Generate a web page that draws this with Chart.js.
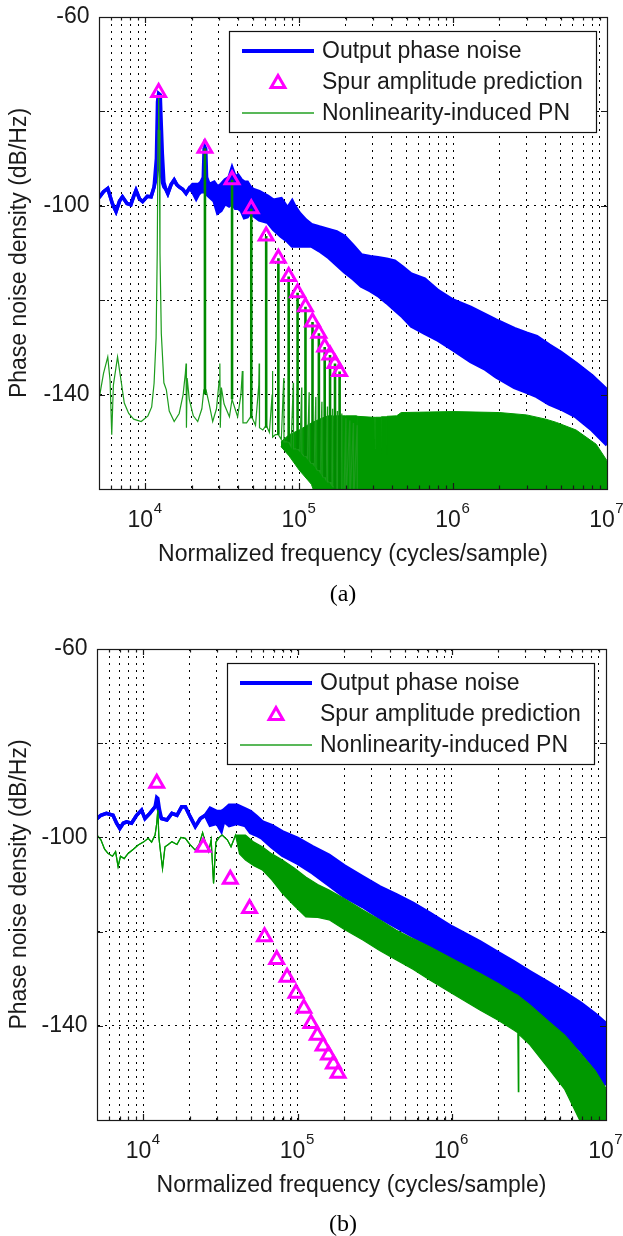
<!DOCTYPE html>
<html><head><meta charset="utf-8">
<script src="https://cdn.jsdelivr.net/npm/chart.js@4.4.0/dist/chart.umd.min.js"></script>
<style>
html,body{margin:0;padding:0;background:#fff;}
body{width:623px;height:1236px;position:relative;overflow:hidden;}
canvas{position:absolute;left:0;}
#ca{top:0;} #cb{top:618px;}
.cap{position:absolute;left:293px;width:100px;text-align:center;font-family:'Liberation Serif','Times New Roman',serif;font-size:24px;line-height:24px;color:#000;}
</style></head><body>
<canvas id="ca" width="623" height="618"></canvas>
<canvas id="cb" width="623" height="618"></canvas>
<div class="cap" id="capA" style="top:581px;"></div>
<div class="cap" id="capB" style="top:1211px;"></div>
<script>
// ---------- shared labels / ticks ----------
const legendLabels = ['Output phase noise', 'Spur amplitude prediction', 'Nonlinearity-induced PN'];
const captions = ['(a)', '(b)'];
const xTitle = 'Normalized frequency (cycles/sample)';
const yTitle = 'Phase noise density (dB/Hz)';
const xTickValues = [6e3,7e3,8e3,9e3,1e4,2e4,3e4,4e4,5e4,6e4,7e4,8e4,9e4,1e5,2e5,3e5,4e5,5e5,6e5,7e5,8e5,9e5,1e6,2e6,3e6,4e6,5e6,6e6,7e6,8e6,9e6,1e7];
const xMajorTicks = [1e4, 1e5, 1e6, 1e7];
const xMajorBase = '10';
const xMajorExponents = ['4', '5', '6', '7'];
const yTickValues = [-160, -140, -120, -100, -80, -60];
const yLabelValues = [-140, -100, -60];

// ---------- spur predictions ----------
const spurFreqs = [12200, 24400, 36600, 48800, 61000, 73200, 85400, 97600, 109800, 122000, 134200, 146400, 158600, 170800, 183000];
const spurA = [-76.0, -87.8, -94.5, -100.6, -106.4, -111.1, -115.0, -118.4, -121.4, -124.6, -127.0, -129.9, -131.6, -133.4, -135.1];
const spurB = [-88.5, -102.1, -108.9, -115.1, -121.1, -125.9, -129.7, -133.1, -136.3, -139.5, -142.0, -144.3, -146.2, -148.1, -150.1];

// ---------- (a) output phase noise (upper / lower envelope) ----------
const blueFreqA = [5000,5350,5700,6100,6450,6800,7100,7600,8050,8400,8700,9150,9600,10300,10900,11400,11800,12000,12200,12500,12700,12900,13200,13600,14000,14700,15400,16000,16600,17500,18400,19300,20300,21400,22200,23000,23800,24100,24400,24700,25000,26000,28000,29500,31000,33000,35000,36600,38500,40000,42000,44000,46000,48000,50000,55000,62500,68000,76400,84000,90000,93200,100000,110000,120000,135000,153500,175000,197000,225000,253000,290000,325000,370000,417000,470000,536000,653000,800000,1000000,1300000,1600000,1900000,2500000,3000000,3500000,4200000,5000000,6300000,8000000,10000000];
const blueHiA = [-98.3,-97.0,-96.3,-99.5,-101.2,-99.0,-98.1,-99.5,-99.8,-98.0,-96.7,-98.5,-99.1,-98.0,-98.1,-96.0,-90.0,-78.0,-76.2,-76.5,-83.0,-89.0,-95.0,-96.5,-97.4,-95.5,-94.5,-95.5,-96.0,-96.5,-97.4,-96.3,-95.5,-95.5,-95.5,-95.0,-94.0,-88.0,-87.6,-88.0,-94.0,-95.5,-95.0,-96.0,-95.5,-94.5,-94.0,-92.0,-94.0,-93.5,-94.5,-95.0,-95.0,-96.0,-96.5,-97.0,-98.0,-98.8,-98.5,-100.5,-99.0,-100.0,-101.5,-103.0,-104.0,-104.5,-105.0,-105.5,-106.5,-108.5,-110.4,-110.8,-111.0,-111.3,-111.7,-113.0,-114.5,-115.5,-118.0,-120.0,-121.5,-123.0,-124.2,-126.0,-127.0,-127.7,-129.5,-131.0,-133.4,-136.0,-139.0];
const blueLoA = [-98.3,-97.0,-96.3,-99.5,-101.2,-99.0,-98.1,-99.5,-99.8,-98.0,-96.7,-98.5,-99.1,-98.0,-98.1,-96.0,-94.0,-92.0,-90.0,-90.0,-93.0,-95.0,-96.0,-96.5,-97.4,-95.5,-94.5,-95.5,-96.0,-96.5,-97.4,-96.3,-97.0,-98.5,-97.5,-97.0,-97.0,-97.0,-97.0,-97.0,-97.5,-98.0,-99.0,-101.5,-101.0,-99.5,-100.0,-99.5,-100.5,-100.5,-101.0,-102.5,-102.3,-101.5,-102.0,-103.0,-103.5,-105.0,-106.5,-107.5,-108.5,-108.5,-108.5,-108.5,-108.5,-109.5,-110.8,-112.5,-114.0,-115.5,-117.0,-118.0,-119.0,-120.5,-122.0,-123.5,-125.5,-127.0,-128.5,-130.5,-133.0,-134.5,-136.2,-138.5,-139.5,-140.4,-142.0,-143.0,-144.7,-147.5,-150.7];

// ---------- (a) nonlinearity-induced PN: thin trace ----------
const greenFreqA = [5000,5350,5700,5900,6050,6200,6600,6950,7300,7800,8400,9400,10400,11000,11400,11750,11950,12100,12200,12300,12450,12700,13200,13700,14300,15400,16600,17600,18200,18400,18500,18700,19300,20500,21900,23300,24000,24800,26000,27400,29000,30200,30500,30700,31200,32500,35200,36600,39800,41800,42700,43100,45500,48800,52000,54600,54900,55200,58000,61000,64000,66700,67000,67300,70000,73200,76500,79300,79600,82500,85400,88500,91500,91800,94500,97600,101000,103700,104000,107000,109800,113000,115900,116200,119000,122000,125000,128100,128400,131000,134200,137000,140300,140600,143000,146400,149000,152500,152800,155500,158600,161500,164700,165000,168000,170800,174000,176900,177200,183000,189000,189300,195000,201000,201300,213000,213400,225000,225400,238000,238500];
const greenA = [-141.0,-135.5,-132.0,-137.0,-148.5,-138.0,-132.0,-137.0,-141.8,-144.0,-145.2,-145.7,-144.5,-142.6,-137.6,-128.0,-110.0,-84.0,-76.5,-84.0,-110.0,-127.0,-137.5,-139.0,-143.5,-145.7,-144.0,-140.0,-135.5,-133.4,-147.0,-136.5,-141.0,-144.5,-145.7,-143.0,-139.0,-139.0,-142.0,-145.7,-143.0,-137.0,-133.4,-147.0,-138.5,-142.0,-144.7,-141.0,-144.7,-140.0,-135.0,-146.0,-146.0,-144.5,-146.5,-138.0,-133.4,-147.0,-147.5,-146.5,-148.0,-140.0,-135.0,-149.0,-148.5,-148.5,-149.5,-136.5,-150.0,-150.0,-150.0,-151.0,-137.5,-151.5,-151.5,-151.5,-152.0,-138.5,-152.5,-153.0,-153.0,-153.5,-139.5,-154.0,-154.5,-154.5,-155.0,-140.5,-155.5,-156.0,-156.0,-156.5,-141.5,-157.0,-157.5,-157.5,-158.0,-142.5,-158.5,-158.5,-158.5,-159.0,-143.0,-159.5,-159.5,-160.0,-160.5,-143.5,-161.0,-161.0,-144.0,-162.0,-162.0,-145.0,-162.5,-145.5,-163.0,-146.0,-163.0,-146.5,-163.0];
// harmonic spur lines: floor level under each spur (first spur is in the thin trace)
const spikeFloorA = [null, -140.0, -141.0, -145.0, -147.0, -148.5, -150.0, -151.5, -153.0, -154.5, -156.0, -157.5, -158.5, -160.0, -161.0];
// dense high-frequency part (upper / lower envelope)
const greenBandFreqA = [76000,86000,100000,120000,140000,155000,166000,167000,168000,200000,236000,237000,238000,300000,310000,311000,312000,340000,341000,342000,370000,371000,372000,430000,460000,1000000,2000000,3000000,4000000,4700000,6300000,8500000,10000000];
const greenBandHiA = [-150.0,-148.5,-147.5,-146.0,-145.0,-144.5,-144.5,-149.0,-144.5,-144.5,-144.5,-151.0,-144.6,-144.8,-144.8,-151.5,-144.8,-144.8,-152.5,-144.7,-144.7,-153.0,-144.6,-144.5,-143.8,-143.6,-143.8,-144.3,-145.2,-145.9,-147.5,-150.5,-154.0];
const greenBandLoA = [-151.0,-153.0,-156.0,-159.0,-165,-165,-165,-165,-165,-165,-165,-165,-165,-165,-165,-165,-165,-165,-165,-165,-165,-165,-165,-165,-165,-165,-165,-165,-165,-165,-165,-165,-165];

// ---------- (b) output phase noise ----------
const blueFreqB = [5000,5300,5750,6350,6700,7030,7400,7770,8380,9030,9730,10230,11000,11900,12200,12400,12700,13100,14200,15300,16500,17700,18700,20100,21700,23400,25200,27100,30000,32000,33200,36000,40500,45900,49500,54000,59000,68000,79700,100000,125000,160000,200000,265000,340000,437000,560000,720000,1000000,1530000,2000000,2520000,3200000,4160000,5400000,6860000,8500000,10000000];
const blueHiB = [-96.0,-95.3,-94.9,-95.3,-97.0,-98.1,-97.0,-96.7,-97.0,-95.3,-94.2,-96.0,-94.9,-93.5,-91.5,-91.7,-94.0,-96.0,-96.3,-94.9,-95.3,-93.5,-93.5,-95.6,-97.7,-96.0,-95.3,-93.8,-94.5,-94.5,-94.2,-93.2,-93.2,-94.0,-94.5,-95.5,-96.7,-97.5,-98.8,-100.2,-102.0,-103.8,-106.0,-108.4,-110.5,-112.2,-114.0,-116.1,-119.0,-122.2,-124.5,-126.4,-128.5,-130.7,-133.0,-135.2,-137.5,-139.5];
const blueLoB = [-96.0,-95.3,-94.9,-95.3,-97.0,-98.1,-97.0,-96.7,-97.0,-95.3,-94.2,-96.0,-94.9,-93.5,-93.0,-93.5,-95.0,-96.0,-96.3,-94.9,-95.3,-93.5,-93.5,-95.6,-97.7,-96.0,-95.3,-97.4,-97.0,-98.6,-96.5,-97.5,-97.0,-97.5,-99.0,-99.5,-100.2,-102.0,-103.8,-105.5,-107.5,-110.1,-112.5,-114.7,-117.0,-119.0,-121.0,-122.9,-125.4,-128.9,-131.0,-133.1,-136.0,-138.8,-142.0,-145.2,-149.0,-152.6];

// ---------- (b) nonlinearity-induced PN ----------
const greenFreqB = [5000,5300,5600,5890,6300,6600,6850,7100,7500,7960,8600,9250,10000,10750,11300,11900,12200,12400,12600,12900,13300,13800,14500,15300,16500,17500,18700,20000,21700,23000,24200,25200,26500,27500,28500,29500,31000,32400,35000,37000,39600,42000,45900,52000,59000,68000,79700,95000,113000,135000,160000,200000,265000,340000,437000,560000,720000,1000000,1530000,2000000,2520000,2680000,2700000,2720000,3200000,4160000,5400000,6860000,8500000,10000000];
const greenHiB = [-99.5,-100.5,-102.5,-103.4,-104.0,-103.0,-106.2,-104.0,-104.5,-103.4,-102.5,-101.6,-101.0,-100.2,-101.0,-99.5,-97.0,-94.2,-100.0,-103.0,-106.6,-102.0,-101.5,-100.9,-101.5,-100.0,-100.2,-101.5,-102.7,-101.5,-99.0,-101.0,-103.0,-100.5,-109.8,-101.0,-100.0,-99.5,-100.5,-102.0,-99.5,-99.5,-99.5,-101.0,-102.0,-103.5,-104.8,-106.5,-108.4,-110.0,-111.2,-113.0,-115.4,-117.5,-119.7,-121.5,-123.2,-125.7,-128.9,-131.0,-133.1,-133.5,-133.6,-133.7,-135.5,-138.8,-142.0,-145.9,-149.5,-153.3];
const greenLoB = [-99.5,-100.5,-102.5,-103.4,-104.0,-103.0,-106.2,-104.0,-104.5,-103.4,-102.5,-101.6,-101.0,-100.2,-101.0,-99.5,-97.0,-94.2,-100.0,-103.0,-106.6,-102.0,-101.5,-100.9,-101.5,-100.0,-100.2,-101.5,-102.7,-101.5,-99.0,-101.0,-103.0,-100.5,-109.8,-101.0,-100.0,-99.5,-100.5,-102.0,-99.5,-103.5,-104.8,-106.0,-106.9,-109.0,-111.9,-114.5,-116.9,-117.0,-117.5,-119.5,-121.8,-124.0,-126.0,-128.0,-130.3,-133.1,-136.7,-138.8,-140.9,-141.5,-154.0,-141.8,-144.0,-148.7,-153.5,-160.5,-165.0,-170.0];

// ---------- helpers ----------
const FONT = "'Liberation Sans', Arial, Helvetica, sans-serif";
const BLUE = '#0000ff', GREEN = '#009900', GREEN_DARK = '#008a00', MAGENTA = '#ff00ff';
const xy = (xs, ys) => xs.map((x, i) => ({x: x, y: ys[i]}));
function spikeSeries(xs, floors, peaks) {
  const out = [];
  xs.forEach((x, i) => {
    if (floors[i] === null) return;
    out.push({x: x, y: floors[i]}, {x: x, y: peaks[i]}, {x: x, y: floors[i]}, {x: x, y: null});
  });
  return out;
}

const TICK_PAD = 17.7, LINE_H = 27.6, BASE_W = 25.6, LABEL_SHIFT = -5;

const framePlugin = {
  id: 'frame',
  afterDatasetsDraw(chart) {
    const ctx = chart.ctx, a = chart.chartArea, xs = chart.scales.x, ys = chart.scales.y;
    ctx.save();
    ctx.strokeStyle = '#1a1a1a';
    ctx.lineWidth = 1.2;
    ctx.strokeRect(Math.round(a.left) + 0.5, Math.round(a.top) + 0.5, Math.round(a.right - a.left), Math.round(a.bottom - a.top));
    ctx.beginPath();
    xs.ticks.forEach(t => {
      const px = Math.round(xs.getPixelForValue(t.value)) + 0.5;
      if (px <= a.left + 1 || px >= a.right - 1) return;
      const len = xMajorTicks.includes(t.value) ? 6 : 3.5;
      ctx.moveTo(px, a.bottom); ctx.lineTo(px, a.bottom - len);
      ctx.moveTo(px, a.top); ctx.lineTo(px, a.top + len);
    });
    ys.ticks.forEach(t => {
      const py = Math.round(ys.getPixelForValue(t.value)) + 0.5;
      if (py <= a.top + 1 || py >= a.bottom - 1) return;
      ctx.moveTo(a.left, py); ctx.lineTo(a.left + 6, py);
      ctx.moveTo(a.right, py); ctx.lineTo(a.right - 6, py);
    });
    ctx.stroke();
    ctx.restore();
  },
  afterDraw(chart) {
    // exponents of the decade labels (10^n)
    const ctx = chart.ctx, a = chart.chartArea, xs = chart.scales.x;
    ctx.save();
    ctx.fillStyle = '#1a1a1a';
    ctx.font = '15px ' + FONT;
    ctx.textAlign = 'left';
    ctx.textBaseline = 'middle';
    xMajorTicks.forEach((v, i) => {
      const px = xs.getPixelForValue(v) + LABEL_SHIFT + BASE_W / 2;
      ctx.fillText(xMajorExponents[i], px + 0.5, a.bottom + TICK_PAD + LINE_H / 2 - 12);
    });
    ctx.restore();
  }
};

const boxLegendPlugin = {
  id: 'boxLegend',
  afterDatasetsDraw(chart, args, o) {
    const ctx = chart.ctx, a = chart.chartArea;
    const L = Math.round(a.left + o.dx), T = Math.round(a.top + o.dy);
    ctx.save();
    ctx.fillStyle = '#fff';
    ctx.fillRect(L, T, o.w, o.h);
    ctx.strokeStyle = '#111';
    ctx.lineWidth = 1.2;
    ctx.strokeRect(L + 0.5, T + 0.5, o.w, o.h);
    const rows = [20, 51, 82];
    ctx.lineCap = 'butt';
    ctx.strokeStyle = BLUE; ctx.lineWidth = 4;
    ctx.beginPath(); ctx.moveTo(L + 13, T + rows[0]); ctx.lineTo(L + 85, T + rows[0]); ctx.stroke();
    ctx.strokeStyle = '#22a022'; ctx.lineWidth = 1.3;
    ctx.beginPath(); ctx.moveTo(L + 13, T + rows[2]); ctx.lineTo(L + 85, T + rows[2]); ctx.stroke();
    const cx = L + 49, cy = T + rows[1] + 1.5, r = 8;
    ctx.strokeStyle = MAGENTA; ctx.lineWidth = 3;
    ctx.beginPath();
    ctx.moveTo(cx, cy - r);
    ctx.lineTo(cx + r * 0.866, cy + r / 2);
    ctx.lineTo(cx - r * 0.866, cy + r / 2);
    ctx.closePath(); ctx.stroke();
    ctx.fillStyle = '#1a1a1a';
    ctx.font = '23px ' + FONT;
    ctx.textBaseline = 'middle';
    ctx.textAlign = 'left';
    legendLabels.forEach((s, i) => ctx.fillText(s, L + 93, T + rows[i] + 1));
    ctx.restore();
  }
};

function makeChart(id, g, datasets) {
  const H = 618;
  const xAxisH = H - g.bottom;
  return new Chart(document.getElementById(id), {
    type: 'line',
    data: { datasets: datasets },
    plugins: [framePlugin, boxLegendPlugin],
    options: {
      responsive: false, animation: false, devicePixelRatio: 1,
      layout: { padding: { left: 0, right: 623 - g.right, top: g.top, bottom: 0 } },
      elements: { line: { tension: 0 }, point: { radius: 0 } },
      plugins: {
        legend: { display: false }, tooltip: { enabled: false }, title: { display: false },
        boxLegend: { dx: 130, dy: 14, w: 367, h: 101 }
      },
      scales: {
        x: {
          type: 'logarithmic', position: 'bottom', min: 5000, max: 1e7,
          afterFit: s => { s.height = xAxisH; s.paddingLeft = 0; s.paddingRight = 0; },
          afterBuildTicks: s => { s.ticks = xTickValues.map(v => ({ value: v, major: xMajorTicks.includes(v) })); },
          ticks: {
            autoSkip: false, maxRotation: 0, minRotation: 0, padding: TICK_PAD, labelOffset: LABEL_SHIFT, color: '#1a1a1a',
            font: { family: FONT, size: 23 },
            callback: v => xMajorTicks.includes(v) ? xMajorBase : ''
          },
          grid: { color: '#000', lineWidth: 1, drawTicks: false, tickLength: 0 },
          border: { display: true, color: '#1a1a1a', width: 1, dash: [2, 5] },
          title: { display: true, text: xTitle, color: '#1a1a1a', font: { family: FONT, size: 23 }, padding: { top: 0, bottom: xAxisH - 65.5 - 13.8 } }
        },
        y: {
          type: 'linear', position: 'left', min: -160, max: -60,
          afterFit: s => { s.width = g.left; s.paddingTop = 0; s.paddingBottom = 0; },
          afterBuildTicks: s => { s.ticks = yTickValues.map(v => ({ value: v })); },
          ticks: {
            padding: 9.5, color: '#1a1a1a', font: { family: FONT, size: 23 },
            callback: v => yLabelValues.includes(v) ? String(v) : ''
          },
          grid: { color: '#000', lineWidth: 1, drawTicks: false, tickLength: 0 },
          border: { display: true, color: '#1a1a1a', width: 1, dash: [2, 5] },
          title: { display: true, text: yTitle, color: '#1a1a1a', font: { family: FONT, size: 23 }, padding: { top: 6, bottom: 0 } }
        }
      }
    }
  });
}

const tri = (data) => ({ data: data, showLine: false, pointStyle: 'triangle', pointRadius: 8, pointBorderWidth: 3, pointBorderColor: MAGENTA, pointBackgroundColor: 'rgba(0,0,0,0)', borderColor: MAGENTA, order: 0 });

// ---------- chart (a) ----------
makeChart('ca', { left: 99, right: 607, top: 17, bottom: 489 }, [
  tri(xy(spurFreqs, spurA)),
  { data: spikeSeries(spurFreqs, spikeFloorA, spurA), borderColor: GREEN_DARK, borderWidth: 2.6, spanGaps: false, pointRadius: 0, fill: false, order: 1, clip: 0 },
  { data: xy(greenFreqA, greenA), borderColor: '#1c9c1c', borderWidth: 1.2, pointRadius: 0, fill: false, order: 2, clip: 0 },
  { data: xy(greenBandFreqA, greenBandHiA), borderColor: GREEN, backgroundColor: GREEN, borderWidth: 1, pointRadius: 0, fill: '+1', order: 3, clip: 0 },
  { data: xy(greenBandFreqA, greenBandLoA), borderColor: GREEN, borderWidth: 1, pointRadius: 0, fill: false, order: 3, clip: 0 },
  { data: xy(blueFreqA, blueHiA), borderColor: BLUE, backgroundColor: BLUE, borderWidth: 3.5, pointRadius: 0, fill: '+1', order: 5, clip: 0 },
  { data: xy(blueFreqA, blueLoA), borderColor: BLUE, borderWidth: 3.5, pointRadius: 0, fill: false, order: 5, clip: 0 }
]);

// ---------- chart (b) ----------
makeChart('cb', { left: 97, right: 606, top: 31, bottom: 502 }, [
  tri(xy(spurFreqs, spurB)),
  { data: xy(greenFreqB, greenHiB), borderColor: GREEN, backgroundColor: GREEN, borderWidth: 1.2, pointRadius: 0, fill: '+1', order: 3, clip: 0 },
  { data: xy(greenFreqB, greenLoB), borderColor: GREEN, borderWidth: 1.2, pointRadius: 0, fill: false, order: 3, clip: 0 },
  { data: xy(blueFreqB, blueHiB), borderColor: BLUE, backgroundColor: BLUE, borderWidth: 3.5, pointRadius: 0, fill: '+1', order: 5, clip: 0 },
  { data: xy(blueFreqB, blueLoB), borderColor: BLUE, borderWidth: 3.5, pointRadius: 0, fill: false, order: 5, clip: 0 }
]);

document.getElementById('capA').textContent = captions[0];
document.getElementById('capB').textContent = captions[1];
</script>
</body></html>
